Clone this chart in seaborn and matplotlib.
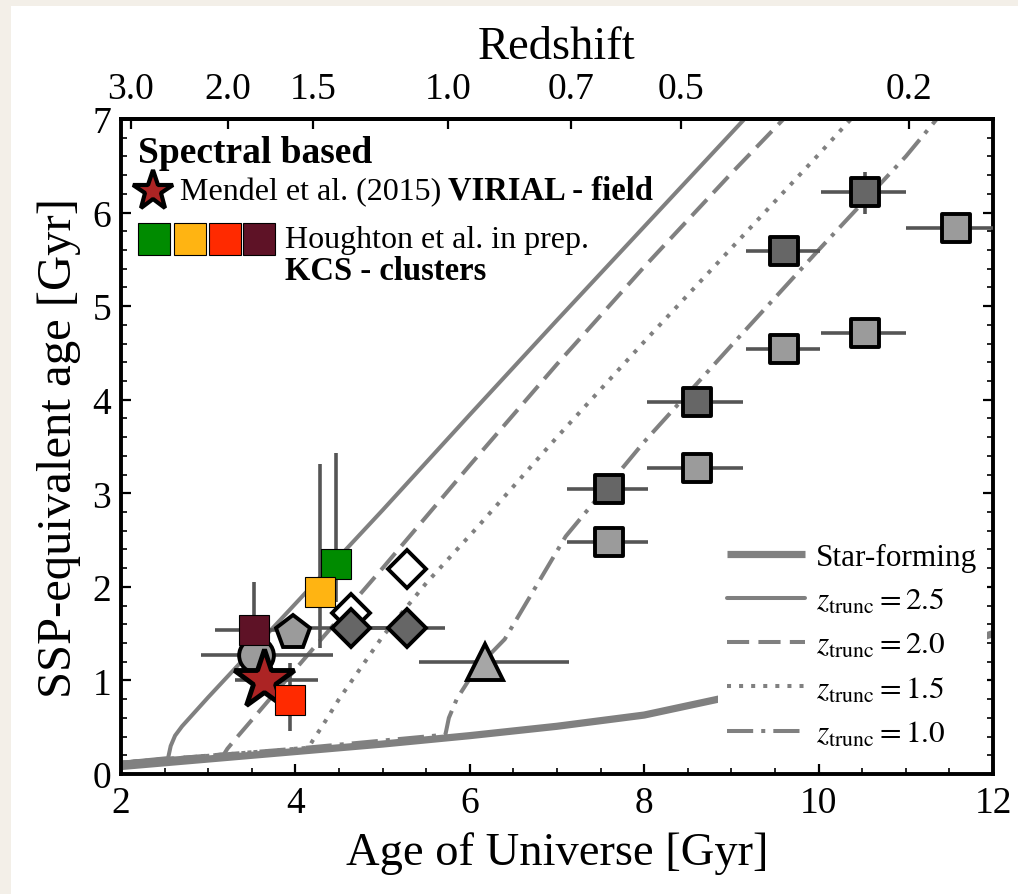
import numpy as np
import pandas as pd
import matplotlib
matplotlib.use("Agg")
import matplotlib.pyplot as plt
from matplotlib.lines import Line2D
from matplotlib.patches import Rectangle
from matplotlib.ticker import MultipleLocator, NullLocator
import seaborn as sns

# ---------------- model tracks: age of Universe [Gyr] vs SSP-equivalent age [Gyr]
sf_t   = [2.0, 3.0, 4.0, 5.0, 6.0, 7.0, 8.0, 8.85, 9.5, 10.0, 10.5, 11.0, 11.5, 12.0]
sf_age = [0.08, 0.16, 0.24, 0.32, 0.41, 0.51, 0.63, 0.80, 0.90, 1.00, 1.10, 1.22, 1.35, 1.50]

z25_t   = [2.0, 2.54, 2.57, 2.62, 2.70, 3.0, 4.0, 5.0, 6.0, 7.0, 8.0, 9.2]
z25_age = [0.12, 0.17, 0.30, 0.41, 0.51, 0.82, 1.82, 2.82, 3.84, 4.85, 5.85, 7.05]

z20_t   = [2.0, 3.18, 3.22, 3.30, 4.0, 5.0, 6.0, 7.0, 8.0, 9.0, 9.65]
z20_age = [0.12, 0.21, 0.27, 0.36, 1.12, 2.20, 3.30, 4.38, 5.42, 6.42, 7.05]

z15_t   = [2.0, 4.15, 4.20, 4.30, 4.50, 5.0, 5.5, 6.07, 7.0, 8.0, 9.0, 10.0, 10.42]
z15_age = [0.12, 0.28, 0.36, 0.50, 0.80, 1.47, 2.04, 2.62, 3.60, 4.62, 5.62, 6.62, 7.05]

z10_t   = [2.0, 4.0, 5.72, 5.76, 5.85, 6.0, 6.17, 6.4, 7.1, 8.0, 9.0, 10.0, 11.0, 11.4]
z10_age = [0.12, 0.27, 0.42, 0.60, 0.80, 1.02, 1.22, 1.44, 2.54, 3.55, 4.58, 5.60, 6.60, 7.05]

# ---------------- measurements
dark_t      = [7.60, 8.60, 9.60, 10.53]
dark_age    = [3.05, 3.98, 5.59, 6.22]
dark_tlo    = [0.48, 0.57, 0.43, 0.50]
dark_thi    = [0.44, 0.53, 0.42, 0.47]
dark_agelo  = [0.0, 0.0, 0.0, 0.24]
dark_agehi  = [0.0, 0.0, 0.0, 0.21]

light_t     = [7.60, 8.60, 9.60, 10.53, 11.58]
light_age   = [2.48, 3.27, 4.54, 4.71, 5.83]
light_tlo   = [0.48, 0.57, 0.43, 0.50, 0.58]
light_thi   = [0.44, 0.53, 0.42, 0.47, 0.60]

kcs_t       = [4.47, 4.28, 3.94, 3.52]
kcs_age     = [2.24, 1.95, 0.79, 1.54]
kcs_agelo   = [0.40, 0.60, 0.33, 0.52]
kcs_agehi   = [1.19, 1.36, 0.40, 0.51]
kcs_tlo     = [0.0, 0.0, 0.0, 0.44]
kcs_thi     = [0.0, 0.0, 0.0, 0.44]
kcs_colors  = ["#008b00", "#ffb412", "#ff2a00", "#5e1226"]

dia_t       = [4.64, 5.28]
dia_age     = [1.56, 1.56]
dia_tlo     = [0.47, 0.43]
dia_thi     = [0.45, 0.43]
open_dia_t  = [4.64, 5.28]
open_dia_age = [1.72, 2.19]

pent_t, pent_age = [3.97], [1.51]
circ_t, circ_age, circ_tlo, circ_thi = [3.55], [1.27], [0.63], [0.88]
tri_t, tri_age, tri_tlo, tri_thi = [6.17], [1.20], [0.75], [0.97]
star_t, star_age, star_tlo, star_thi = [3.64], [1.00], [0.33], [0.62]

# redshift ticks on the top axis
z_ticks = [3.0, 2.0, 1.5, 1.0, 0.7, 0.5, 0.2]
z_labels = ["3.0", "2.0", "1.5", "1.0", "0.7", "0.5", "0.2"]
x_ticks = [2, 4, 6, 8, 10, 12]
y_ticks = [0, 1, 2, 3, 4, 5, 6, 7]


def age_at_z(z, h0=70.0, om=0.3):
    """Age of a flat LCDM Universe at redshift z, in Gyr."""
    ol = 1.0 - om
    hubble_time = 977.8 / h0
    a = np.asarray(z, dtype=float)
    return (2.0 / (3.0 * np.sqrt(ol))) * hubble_time * np.arcsinh(
        np.sqrt(ol / om) * (1.0 + a) ** -1.5)


sns.set_theme(style="ticks")
plt.rcParams["font.family"] = ["Liberation Serif", "DejaVu Serif"]
plt.rcParams["mathtext.fontset"] = "stix"
plt.rcParams["axes.linewidth"] = 2.8
for key in ["text.color", "axes.labelcolor", "xtick.color", "ytick.color",
            "xtick.labelcolor", "ytick.labelcolor", "axes.edgecolor"]:
    plt.rcParams[key] = "black"

fig = plt.figure(figsize=(10.18, 8.95), dpi=100)
fig.patch.set_facecolor("#f3efe8")
fig.add_artist(Rectangle((11 / 1018, 0), 1, 1 - 7 / 895, transform=fig.transFigure,
                         facecolor="white", edgecolor="none", zorder=-10))

ax = fig.add_axes([121 / 1018, 1 - 775 / 895, (993 - 121) / 1018, (775 - 120) / 895])
ax.set_facecolor("white")

GRAY = "#808080"
EBAR = "#555555"

# model tracks
sns.lineplot(x=sf_t, y=sf_age, ax=ax, color=GRAY, lw=5.2, sort=False,
             estimator=None, solid_capstyle="butt", zorder=2)
h_sf = ax.lines[-1]
styles = [
    (z25_t, z25_age, "-"),
    (z20_t, z20_age, (0, (5.5, 2.3))),
    (z15_t, z15_age, (0, (1, 2))),
    (z10_t, z10_age, (0, (6.5, 2, 1, 2))),
]
track_handles = []
for tt, aa, ls in styles:
    sns.lineplot(x=tt, y=aa, ax=ax, color=GRAY, lw=2.9, linestyle=ls, sort=False,
                 estimator=None, zorder=2)
    track_handles.append(ax.lines[-1])

ebar_kw = dict(fmt="none", ecolor=EBAR, elinewidth=2.6, capsize=0, zorder=3)

# grey squares
ax.errorbar(dark_t, dark_age, xerr=[dark_tlo, dark_thi], yerr=[dark_agelo, dark_agehi], **ebar_kw)
ax.errorbar(light_t, light_age, xerr=[light_tlo, light_thi], **ebar_kw)
sns.scatterplot(x=dark_t, y=dark_age, ax=ax, marker="s", s=20.5 ** 2, color="#666666",
                edgecolor="black", linewidth=2.8, zorder=5)
sns.scatterplot(x=light_t, y=light_age, ax=ax, marker="s", s=20.5 ** 2, color="#9b9b9b",
                edgecolor="black", linewidth=2.8, zorder=5)

# other grey symbols
ax.errorbar(circ_t, circ_age, xerr=[circ_tlo, circ_thi], **ebar_kw)
ax.errorbar(tri_t, tri_age, xerr=[tri_tlo, tri_thi], **ebar_kw)
ax.errorbar(dia_t, dia_age, xerr=[dia_tlo, dia_thi], **ebar_kw)
ax.errorbar(star_t, star_age, xerr=[star_tlo, star_thi], **ebar_kw)
ax.errorbar(kcs_t, kcs_age, xerr=[kcs_tlo, kcs_thi], yerr=[kcs_agelo, kcs_agehi], **ebar_kw)

ax.plot(circ_t, circ_age, ls="none", marker="o", ms=25, mfc="#9b9b9b", mec="black", mew=2.8, zorder=4)
ax.plot(tri_t, tri_age, ls="none", marker="^", ms=26, mfc="#a6a6a6", mec="black", mew=2.8, zorder=5)
ax.plot(open_dia_t, open_dia_age, ls="none", marker="D", ms=19, mfc="white", mec="black", mew=2.8, zorder=4)
ax.plot(dia_t, dia_age, ls="none", marker="D", ms=19, mfc="#666666", mec="black", mew=2.8, zorder=5)
ax.plot(pent_t, pent_age, ls="none", marker="p", ms=25.5, mfc="#9b9b9b", mec="black", mew=2.8, zorder=5)

# KCS clusters and VIRIAL field
kcs_z = [5, 6, 7, 5]
for t, a, c, zo in zip(kcs_t, kcs_age, kcs_colors, kcs_z):
    ax.plot([t], [a], ls="none", marker="s", ms=22, mfc=c, mec="black", mew=0.8, zorder=zo)
ax.plot(star_t, star_age, ls="none", marker="*", ms=45, mfc="#ac2424", mec="black", mew=3.5, zorder=6)

# axes ranges and ticks
ax.set_xlim(2, 12)
ax.set_ylim(0, 7)
ax.set_xticks(x_ticks)
ax.set_yticks(y_ticks)
ax.xaxis.set_minor_locator(MultipleLocator(0.5))
ax.yaxis.set_minor_locator(MultipleLocator(0.2))
ax.tick_params(which="both", direction="in", top=False, right=True, labelsize=27,
               color="black", labelcolor="black")
ax.tick_params(which="major", length=7, width=1.6)
ax.tick_params(which="minor", length=4, width=1.2)
ax.tick_params(axis="x", pad=8)
ax.tick_params(axis="y", pad=7)
for sp in ax.spines.values():
    sp.set_linewidth(2.8)
    sp.set_color("black")

ax.set_xlabel("Age of Universe [Gyr]", fontsize=33.5, labelpad=8, color="black")
ax.set_ylabel("SSP-equivalent age [Gyr]", fontsize=35, labelpad=8, color="black")

secax = ax.secondary_xaxis("top")
secax.set_xticks(age_at_z(z_ticks))
secax.set_xticklabels(z_labels)
secax.xaxis.set_minor_locator(NullLocator())
secax.tick_params(direction="in", length=7, width=1.6, pad=9, labelsize=27,
                  color="black", labelcolor="black")
secax.spines["top"].set_linewidth(2.8)
secax.spines["top"].set_color("black")
secax.set_xlabel("Redshift", fontsize=33.5, labelpad=10, color="black")

# legend for the model tracks
leg = ax.legend(
    [h_sf] + track_handles,
    ["Star-forming", r"$z_{\rm trunc} = 2.5$", r"$z_{\rm trunc} = 2.0$",
     r"$z_{\rm trunc} = 1.5$", r"$z_{\rm trunc} = 1.0$"],
    loc="lower right", bbox_to_anchor=(1.0, 0.015), fontsize=22.5,
    frameon=True, framealpha=1.0, facecolor="white", edgecolor="none",
    handlelength=2.5, handletextpad=0.35, labelspacing=0.48,
    borderpad=0.3, borderaxespad=0.2,
)
leg.set_zorder(8)
for txt in leg.get_texts():
    txt.set_color("black")

# key for the spectral samples
ax.text(0.0195, 0.9344, "Spectral based", transform=ax.transAxes, fontsize=27,
        fontweight="bold", va="baseline", ha="left", zorder=9, color="black")
ax.plot([0.0367], [0.890], transform=ax.transAxes, ls="none", marker="*", ms=30,
        mfc="#ac2424", mec="black", mew=3, clip_on=False, zorder=9)
t_mendel = ax.text(0.0677, 0.8779, "Mendel et al. (2015)", transform=ax.transAxes,
                   fontsize=23, va="baseline", ha="left", zorder=9, color="black")
ax.annotate("VIRIAL - field", xy=(1, 0), xycoords=t_mendel, xytext=(5, 0),
            textcoords="offset points", fontsize=23.5, fontweight="bold",
            va="bottom", ha="left", zorder=9, color="black")
key_x = [0.0378, 0.0791, 0.1187, 0.1579]
for kx, c in zip(key_x, kcs_colors):
    ax.plot([kx], [0.8173], transform=ax.transAxes, ls="none", marker="s", ms=22.5,
            mfc=c, mec="black", mew=0.8, clip_on=False, zorder=9)
ax.text(0.188, 0.8046, "Houghton et al. in prep.", transform=ax.transAxes,
        fontsize=23, va="baseline", ha="left", zorder=9, color="black")
ax.text(0.188, 0.7557, "KCS - clusters", transform=ax.transAxes,
        fontsize=23.5, fontweight="bold", va="baseline", ha="left", zorder=9, color="black")

fig.savefig("out.png", dpi=100, facecolor=fig.get_facecolor())
